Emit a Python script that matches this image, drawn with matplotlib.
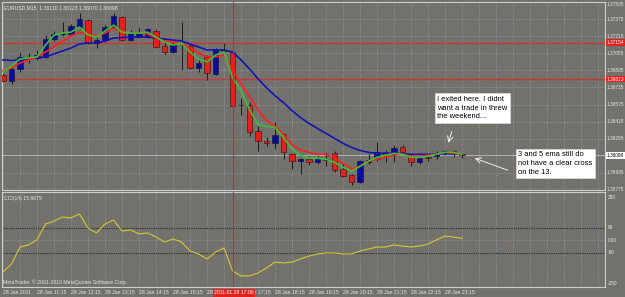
import matplotlib.pyplot as plt
import matplotlib.transforms as mtransforms
import numpy as np

# EURUSD M15, 28 Jan 2011, bars from 10:15 to 23:45
opens = [1.36853, 1.36798, 1.36909, 1.37021, 1.37011, 1.37021, 1.37188, 1.37235, 1.37235, 1.37300,
         1.37365, 1.37151, 1.37179, 1.37300, 1.37393, 1.37179, 1.37207, 1.37207, 1.37263, 1.37123,
         1.37067, 1.37160, 1.37123, 1.36918, 1.37021, 1.36863, 1.37086, 1.37067, 1.36574, 1.36574,
         1.36323, 1.36230, 1.36212, 1.36295, 1.36109, 1.36044, 1.36063, 1.36035, 1.36063, 1.36118,
         1.35970, 1.35914, 1.35849, 1.36035, 1.36063, 1.36128, 1.36109, 1.36174, 1.36081, 1.36035,
         1.36081, 1.36091, 1.36118, 1.36137, 1.36110]
highs = [1.36872, 1.36928, 1.37067, 1.37058, 1.37086, 1.37225, 1.37263, 1.37346, 1.37328, 1.37430,
         1.37374, 1.37207, 1.37318, 1.37430, 1.37402, 1.37272, 1.37300, 1.37291, 1.37281, 1.37160,
         1.37160, 1.37346, 1.37142, 1.36993, 1.37039, 1.37104, 1.37151, 1.37086, 1.36639, 1.36602,
         1.36370, 1.36267, 1.36416, 1.36305, 1.36118, 1.36072, 1.36091, 1.36091, 1.36128, 1.36137,
         1.36016, 1.35923, 1.36053, 1.36109, 1.36221, 1.36146, 1.36193, 1.36193, 1.36109, 1.36100,
         1.36109, 1.36137, 1.36146, 1.36146, 1.36123]
lows = [1.36788, 1.36770, 1.36881, 1.36965, 1.36993, 1.37011, 1.37170, 1.37216, 1.37216, 1.37281,
        1.37142, 1.37104, 1.37160, 1.37291, 1.37170, 1.37170, 1.37198, 1.37198, 1.37104, 1.37049,
        1.37058, 1.36900, 1.36909, 1.36881, 1.36807, 1.36853, 1.37058, 1.36556, 1.36481, 1.36277,
        1.36137, 1.36184, 1.36156, 1.36063, 1.35970, 1.35923, 1.36007, 1.36016, 1.35998, 1.35942,
        1.35895, 1.35821, 1.35839, 1.36016, 1.36044, 1.36035, 1.36035, 1.36109, 1.35998, 1.36016,
        1.36044, 1.36063, 1.36100, 1.36081, 1.36070]
closes = [1.36798, 1.36909, 1.37021, 1.37002, 1.37039, 1.37188, 1.37235, 1.37244, 1.37309, 1.37374,
          1.37151, 1.37179, 1.37300, 1.37402, 1.37179, 1.37253, 1.37253, 1.37281, 1.37114, 1.37067,
          1.37132, 1.37151, 1.36918, 1.36965, 1.36872, 1.37095, 1.37077, 1.36565, 1.36570, 1.36314,
          1.36230, 1.36212, 1.36286, 1.36128, 1.36044, 1.36063, 1.36035, 1.36072, 1.36058, 1.35960,
          1.35904, 1.35849, 1.36044, 1.36053, 1.36128, 1.36091, 1.36165, 1.36128, 1.36035, 1.36072,
          1.36077, 1.36118, 1.36137, 1.36109, 1.36098]
ema13 = [1.36993, 1.36988, 1.36993, 1.37002, 1.37011, 1.37021, 1.37049, 1.37077, 1.37104, 1.37142,
         1.37151, 1.37151, 1.37170, 1.37198, 1.37202, 1.37207, 1.37207, 1.37207, 1.37198, 1.37188,
         1.37179, 1.37170, 1.37142, 1.37114, 1.37086, 1.37086, 1.37086, 1.37067, 1.36993, 1.36909,
         1.36816, 1.36732, 1.36658, 1.36593, 1.36518, 1.36453, 1.36398, 1.36351, 1.36305, 1.36258,
         1.36212, 1.36174, 1.36146, 1.36128, 1.36118, 1.36118, 1.36118, 1.36114, 1.36109, 1.36109,
         1.36109, 1.36109, 1.36114, 1.36114, 1.36109]
ema5 = [1.36891, 1.36918, 1.36965, 1.36993, 1.37021, 1.37067, 1.37114, 1.37170, 1.37216, 1.37253,
        1.37235, 1.37216, 1.37244, 1.37291, 1.37253, 1.37244, 1.37244, 1.37235, 1.37198, 1.37170,
        1.37160, 1.37151, 1.37104, 1.37058, 1.37021, 1.37021, 1.37039, 1.36900, 1.36770, 1.36649,
        1.36528, 1.36425, 1.36370, 1.36295, 1.36202, 1.36146, 1.36128, 1.36109, 1.36109, 1.36072,
        1.36025, 1.35970, 1.35998, 1.36044, 1.36063, 1.36081, 1.36100, 1.36109, 1.36091, 1.36091,
        1.36100, 1.36109, 1.36128, 1.36118, 1.36109]
ema3 = [1.36881, 1.36937, 1.37002, 1.37011, 1.37021, 1.37132, 1.37225, 1.37244, 1.37253, 1.37300,
        1.37225, 1.37207, 1.37263, 1.37318, 1.37253, 1.37244, 1.37244, 1.37253, 1.37207, 1.37160,
        1.37132, 1.37151, 1.37067, 1.37002, 1.36974, 1.37039, 1.37067, 1.36825, 1.36705, 1.36528,
        1.36388, 1.36370, 1.36360, 1.36267, 1.36156, 1.36100, 1.36072, 1.36072, 1.36063, 1.36035,
        1.35988, 1.35951, 1.35998, 1.36044, 1.36081, 1.36100, 1.36118, 1.36109, 1.36081, 1.36081,
        1.36091, 1.36109, 1.36128, 1.36128, 1.36109]
cci = [-227, -169, -47, -32, 4, 119, 140, 169, 162, 191,
       90, 54, 119, 147, 68, 76, 47, 54, 25, -11,
       11, -11, -76, -97, -133, -83, -54, -219, -255, -255,
       -234, -198, -155, -162, -155, -133, -112, -97, -90, -90,
       -97, -97, -76, -61, -47, -47, -32, -40, -47, -40,
       -25, 4, 32, 25, 15.67]
xlabels = ["28 Jan 2011", "28 Jan 11:15", "28 Jan 12:15", "28 Jan 13:15", "28 Jan 14:15",
           "28 Jan 15:15", "28 Jan 16:15", "28 Jan 17:15", "28 Jan 18:15", "28 Jan 19:15",
           "28 Jan 20:15", "28 Jan 21:15", "28 Jan 22:15", "28 Jan 23:15"]
price_ticks = [1.37535, 1.37375, 1.37215, 1.37055, 1.36895, 1.36735, 1.36575,
               1.36415, 1.36255, 1.35935, 1.35775]
red_levels = [1.37154, 1.36813]
cci_ticks = [312, 90, 0, -90, -312]
cci_ticklabels = ["250", "90", "0.00", "-90", "-250"]

bg = '#73716c'
grid_c = '#a3abbb'
frame_c = '#cfcfcf'
txt_c = '#e8e8e8'
small = dict(fontsize=3.7, family='Liberation Sans')
axlab = dict(fontsize=3.4, family='Liberation Sans')

W, H = 625, 297
fig = plt.figure(figsize=(W / 100, H / 100), dpi=100, facecolor=bg)
ax1 = fig.add_axes([2 / W, (H - 190) / H, 603 / W, 188 / H])
ax2 = fig.add_axes([2 / W, (H - 287) / H, 603 / W, 95 / H])

n = len(closes)
x = np.arange(n)
xlim = (-0.12, 70.82)

for ax in (ax1, ax2):
    ax.set_facecolor(bg)
    ax.set_xlim(*xlim)
    for s in ax.spines.values():
        s.set_color(frame_c)
        s.set_linewidth(0.8)
    ax.set_xticks([])
    ax.tick_params(axis='y', which='both', length=0, labelleft=False, labelright=False)
    for gx in range(0, 72, 2):
        ax.axvline(gx, color=grid_c, lw=0.5, ls=(0, (1, 2)), zorder=0)
    ax.axvline(27, color='#e3201c', lw=0.8, zorder=5)

# main price panel
ax1.set_ylim(1.35775, 1.37535)
ax1.set_yticks([])
for p in price_ticks:
    ax1.axhline(p, color=grid_c, lw=0.5, ls=(0, (1, 2)), zorder=0)
for p in red_levels:
    ax1.axhline(p, color='#c53a36', lw=1.0, zorder=1)
ax1.axhline(closes[-1], color='#b9bcc4', lw=0.6, zorder=1)

o = np.array(opens); c = np.array(closes)
up = c >= o
body_lo = np.minimum(o, c)
body_h = np.maximum(np.abs(c - o), 0.000015)
ax1.vlines(x, lows, highs, color='#1c1c1c', lw=0.7, zorder=2)
ax1.bar(x[up], body_h[up], bottom=body_lo[up], width=0.64, color='#0c0c9c',
        edgecolor='#101030', linewidth=0.4, zorder=3)
ax1.bar(x[~up], body_h[~up], bottom=body_lo[~up], width=0.64, color='#e3201c',
        edgecolor='#301010', linewidth=0.4, zorder=3)

ax1.plot(x, ema13, color='#1414b4', lw=1.2, zorder=4)
ax1.plot(x, ema5, color='#ff1e1e', lw=1.2, zorder=4)
ax1.plot(x, ema3, color='#3cc03c', lw=1.2, zorder=4)

tr1 = mtransforms.blended_transform_factory(ax1.transAxes, ax1.transData)
for p in price_ticks[1:]:
    ax1.text(1.003, p, "%.5f" % p, transform=tr1, color=txt_c,
             va='center', ha='left', clip_on=False, **axlab)
ax1.text(1.003, price_ticks[0], "%.5f" % price_ticks[0], transform=tr1, color=txt_c,
         va='top', ha='left', clip_on=False, **axlab)
for p in red_levels:
    ax1.text(1.003, p, "%.5f" % p, transform=tr1, color='white',
             va='center', ha='left', clip_on=False,
             bbox=dict(boxstyle='square,pad=0.15', fc='#e3201c', ec='none'), **axlab)
ax1.text(1.003, closes[-1], "%.5f" % closes[-1], transform=tr1,
         color='black', va='center', ha='left', clip_on=False,
         bbox=dict(boxstyle='square,pad=0.15', fc='white', ec='none'), **axlab)

ax1.text(0.004, 0.985, "EURUSD,M15  1.36110 1.36123 1.36070 1.36098",
         transform=ax1.transAxes, color=txt_c, va='top', ha='left', **small)

note_font = dict(fontsize=5.4, family='Liberation Sans', color='black', va='top', ha='left',
                 linespacing=1.35, zorder=10)
ax1.text(51.1, 1.36657, "I exited here. I didnt\nwant a trade in threw\nthe weekend...",
         bbox=dict(boxstyle='square,pad=0.35', fc='white', ec='#dddddd', lw=0.5), **note_font)
ax1.text(60.6, 1.36137, "3 and 5 ema still do\nnot have a clear cross\non the 13.",
         bbox=dict(boxstyle='square,pad=0.35', fc='white', ec='#dddddd', lw=0.5), **note_font)
ax1.annotate("", xy=(52.3, 1.36193), xytext=(52.9, 1.36349),
             arrowprops=dict(arrowstyle='->', color='white', lw=0.6), zorder=10)
ax1.annotate("", xy=(55.2, 1.36081), xytext=(59.7, 1.35951),
             arrowprops=dict(arrowstyle='->', color='white', lw=0.6), zorder=10)

# CCI panel
ax2.set_ylim(-335, 349)
ax2.set_yticks([])
ax2.axhline(0, color=grid_c, lw=0.5, ls=(0, (1, 2)), zorder=0)
for lv in (90, -90):
    ax2.axhline(lv, color='#2a2a3a', lw=0.8, ls=(0, (1, 1)), zorder=1)
ax2.plot(x, cci, color='#d2c832', lw=0.8, zorder=4)

tr2 = mtransforms.blended_transform_factory(ax2.transAxes, ax2.transData)
for v, lab in zip(cci_ticks, cci_ticklabels):
    ax2.text(1.004, v, lab, transform=tr2, color=txt_c,
             va='center', ha='left', clip_on=False, **axlab)
ax2.text(0.004, 0.96, "CCI(14) 15.6679", transform=ax2.transAxes,
         color=txt_c, va='top', ha='left', **small)
ax2.text(0.002, 0.02, "MetaTrader, \u00a9 2001-2010 MetaQuotes Software Corp.",
         transform=ax2.transAxes, color=txt_c, va='bottom', ha='left', **small)

trx = mtransforms.blended_transform_factory(ax2.transData, ax2.transAxes)
for k, lab in enumerate(xlabels):
    ax2.text(4 * k, -0.035, lab, transform=trx, color=txt_c,
             va='top', ha='left', clip_on=False, **small)
ax2.text(24.85, -0.035, "2011.01.28 17:00", transform=trx, color='white',
         va='top', ha='left', clip_on=False, zorder=12,
         bbox=dict(boxstyle='square,pad=0.25', fc='#e3201c', ec='none'), **small)

fig.savefig('out.png', dpi=100, facecolor=bg)
